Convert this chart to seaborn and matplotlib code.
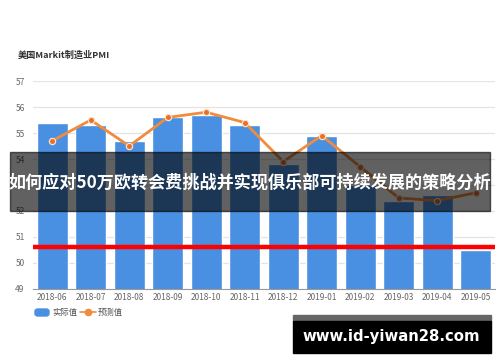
import matplotlib
matplotlib.use("Agg")
import matplotlib.pyplot as plt
import seaborn as sns
import pandas as pd
from matplotlib.patches import FancyBboxPatch, Rectangle
from matplotlib.lines import Line2D

months = ["2018-06", "2018-07", "2018-08", "2018-09", "2018-10", "2018-11",
          "2018-12", "2019-01", "2019-02", "2019-03", "2019-04", "2019-05"]
actual = [55.4, 55.3, 54.7, 55.6, 55.7, 55.3, 53.8, 54.9, 53.0, 52.4, 52.6, 50.5]
forecast = [54.7, 55.5, 54.5, 55.6, 55.8, 55.4, 53.9, 54.9, 53.7, 52.5, 52.4, 52.7]
ref_level = 50.6
y_ticks = [49, 50, 51, 52, 53, 54, 55, 56, 57]
y_tick_labels = ["49", "50", "51", "52", "", "54", "55", "56", "57"]
title = "美国Markit制造业PMI"
legend_labels = ["实际值", "预测值"]
banner = "如何应对50万欧转会费挑战并实现俱乐部可持续发展的策略分析"
url = "www.id-yiwan28.com"

sns.set_theme(style="white")
plt.rcParams['font.family'] = ['Noto Sans CJK SC', 'DejaVu Sans']

df = pd.DataFrame({"month": months, "actual": actual, "forecast": forecast})

fig = plt.figure(figsize=(5, 3.62), dpi=100)
ax = fig.add_axes([0.066, 0.2017, 0.924, 0.5745])

blue = "#4a90e2"
orange = "#f08c3c"
sns.barplot(data=df, x="month", y="actual", color=blue, width=0.8,
            saturation=1, ax=ax, zorder=2)
ax.plot(range(len(months)), forecast, color=orange, lw=2, marker="o",
        markersize=4.5, markerfacecolor="#e8702a", markeredgecolor="#fde0c8",
        markeredgewidth=0.9, zorder=3)
ax.axhline(ref_level, color="#ff0000", lw=3.2, zorder=4)

ax.set_ylim(49, 57)
ax.set_xlim(-0.5, len(months) - 0.5)
ax.set_yticks(y_ticks)
ax.set_yticklabels(y_tick_labels)
ax.yaxis.grid(True, color="#e3e3e3", lw=0.9, zorder=0)
ax.set_axisbelow(True)
for s in ["top", "right", "left"]:
    ax.spines[s].set_visible(False)
ax.spines["bottom"].set_color("#999999")
ax.spines["bottom"].set_linewidth(0.8)
ax.set_xlabel("")
ax.set_ylabel("")
ax.tick_params(axis="both", labelsize=6, colors="#666666", length=0, pad=3)
ax.tick_params(axis="y", pad=6)

fig.text(0.036, 0.848, title, fontsize=6.6, fontweight="bold", color="#333333",
         va="center", ha="left")

# legend
fig.patches.append(FancyBboxPatch((35 / 500, 1 - 316 / 362), 14 / 500, 7 / 362,
                                  boxstyle="round,pad=0,rounding_size=0.006",
                                  transform=fig.transFigure, color=blue))
fig.text(52 / 500, 1 - 312 / 362, legend_labels[0], fontsize=6, color="#555555",
         va="center", ha="left")
fig.lines.append(Line2D([80 / 500, 96 / 500], [1 - 312 / 362] * 2, color=orange,
                        lw=1.2, transform=fig.transFigure))
fig.lines.append(Line2D([88 / 500], [1 - 312 / 362], marker="o", markersize=4.5,
                        color=orange, transform=fig.transFigure))
fig.text(98 / 500, 1 - 312 / 362, legend_labels[1], fontsize=6, color="#555555",
         va="center", ha="left")

# banner overlay
fig.patches.append(Rectangle((10 / 500, 1 - 211 / 362), 480 / 500, 59 / 362,
                             transform=fig.transFigure, color="black",
                             alpha=0.62, zorder=10))
fig.text(0.5, 1 - 183 / 362, banner, fontsize=12.3, fontweight="bold",
         color="white", ha="center", va="center", zorder=11)

# url box
fig.patches.append(Rectangle((293 / 500, 1 - 321 / 362), 198 / 500, 6 / 362,
                             transform=fig.transFigure, color="#666666", zorder=10))
fig.patches.append(Rectangle((293 / 500, 1 - 353 / 362), 198 / 500, 32 / 362,
                             transform=fig.transFigure, color="black", zorder=10))
fig.text(391 / 500, 1 - 337 / 362, url, fontsize=10.7, fontweight="bold",
         color="white", ha="center", va="center", zorder=11,
         family=["DejaVu Sans"])

fig.savefig("out.png", dpi=100)
